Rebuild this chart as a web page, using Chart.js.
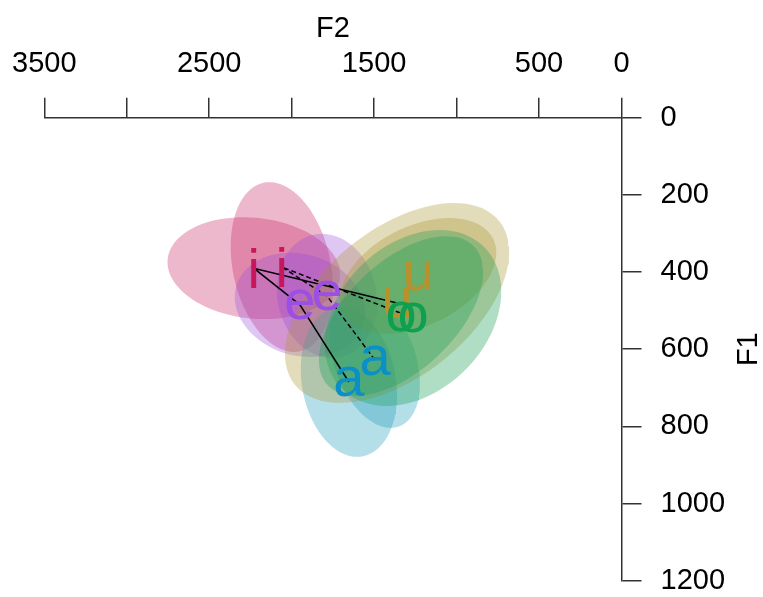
<!DOCTYPE html>
<html><head><meta charset="utf-8">
<script src="https://cdn.jsdelivr.net/npm/chart.js@4"></script>
<style>html,body{margin:0;padding:0;background:#fff;} canvas{display:block;}</style>
</head><body>
<canvas id="c" width="763" height="597"></canvas>
<script>
// ---- data ----
const vowels = ['i', 'e', 'a', 'u', 'o'];
const labelColors = ['#C7175A', '#9B4FE3', '#0A8FC6', '#B8912B', '#0FA04F'];
const fillColors = ['rgba(200,40,100,0.33)', 'rgba(150,70,220,0.30)', 'rgba(40,160,190,0.35)', 'rgba(170,150,50,0.33)', 'rgba(30,160,90,0.35)'];

// vowel means (Hz), two speakers
const f2Speaker1 = [2230, 1950, 1653, 1361, 1337];
const f1Speaker1 = [390, 485, 685, 480, 514];
const f2Speaker2 = [2060, 1786, 1495, 1233, 1264];
const f1Speaker2 = [387, 462, 628, 410, 519];

// ellipse spreads (Hz) and F2/F1 correlation
const f2SpreadSpeaker1 = [523, 395, 292, 680, 498];
const f1SpreadSpeaker1 = [132, 135, 194, 259, 207];
const corrSpeaker1 = [-0.12, -0.15, -0.17, 0.51, 0.55];
const f2SpreadSpeaker2 = [310, 304, 273, 474, 535];
const f1SpreadSpeaker2 = [220, 161, 176, 150, 228];
const corrSpeaker2 = [-0.24, -0.10, -0.35, 0.40, 0.30];

// connecting paths
const pathSpeaker1 = ['a', 'e', 'i', 'u'];
const pathSpeaker2 = ['a', 'e', 'i', 'o'];

// axes
const f2TickValues = [0, 500, 1000, 1500, 2000, 2500, 3000, 3500];
const f2TickLabels = ['0', '500', '', '1500', '', '2500', '', '3500'];
const f1TickValues = [0, 200, 400, 600, 800, 1000, 1200];
const f1TickLabels = ['0', '200', '400', '600', '800', '1000', '1200'];

// ---- build ----
function ellipsePoints(m2, m1, s2, s1, r) {
  const pts = [];
  const k = Math.sqrt(1 - r * r);
  for (let j = 0; j <= 90; j++) {
    const t = 2 * Math.PI * j / 90;
    pts.push({x: m2 + s2 * Math.cos(t), y: m1 + s1 * (r * Math.cos(t) + k * Math.sin(t))});
  }
  return pts;
}

const speakers = [
  {f2: f2Speaker1, f1: f1Speaker1, s2: f2SpreadSpeaker1, s1: f1SpreadSpeaker1, r: corrSpeaker1, path: pathSpeaker1, dash: []},
  {f2: f2Speaker2, f1: f1Speaker2, s2: f2SpreadSpeaker2, s1: f1SpreadSpeaker2, r: corrSpeaker2, path: pathSpeaker2, dash: [5, 3]}
];

const datasets = [];
let ord = 200;
vowels.forEach((v, vi) => {
  speakers.forEach((sp) => {
    datasets.push({
      data: ellipsePoints(sp.f2[vi], sp.f1[vi], sp.s2[vi], sp.s1[vi], sp.r[vi]),
      showLine: true, fill: 'shape', backgroundColor: fillColors[vi],
      borderColor: 'rgba(0,0,0,0)', borderWidth: 0, pointRadius: 0, order: ord--
    });
  });
});
speakers.forEach((sp) => {
  datasets.push({
    data: sp.path.map(v => ({x: sp.f2[vowels.indexOf(v)], y: sp.f1[vowels.indexOf(v)]})),
    showLine: true, fill: false, borderColor: '#000', borderWidth: 1.5, borderDash: sp.dash,
    pointRadius: 0, order: 1
  });
});

const FONT = '"Liberation Sans", Arial, sans-serif';

const labelPlugin = {
  id: 'vowelLabels',
  afterDatasetsDraw(chart) {
    const ctx = chart.ctx, xs = chart.scales.x, ys = chart.scales.y;
    ctx.save();
    ctx.font = '56px ' + FONT;
    ctx.textAlign = 'center';
    ctx.textBaseline = 'alphabetic';
    vowels.forEach((v, vi) => {
      speakers.forEach((sp) => {
        const px = xs.getPixelForValue(sp.f2[vi]);
        const py = ys.getPixelForValue(sp.f1[vi]);
        const m = ctx.measureText(v);
        ctx.fillStyle = labelColors[vi];
        ctx.fillText(v, px, py + (m.actualBoundingBoxAscent - m.actualBoundingBoxDescent) / 2);
      });
    });
    // F1 axis title, reading bottom to top
    ctx.font = '29px ' + FONT;
    ctx.fillStyle = '#000';
    ctx.textBaseline = 'middle';
    ctx.translate(chart.width - 14, (ys.top + ys.bottom) / 2);
    ctx.rotate(-Math.PI / 2);
    ctx.fillText('F1', 0, 0);
    ctx.restore();
  }
};

new Chart(document.getElementById('c'), {
  type: 'scatter',
  data: {datasets},
  options: {
    responsive: false, animation: false, devicePixelRatio: 1,
    layout: {padding: {left: 44.3, right: 0, top: 0, bottom: 16.3}},
    plugins: {legend: {display: false}, tooltip: {enabled: false}},
    scales: {
      x: {
        type: 'linear', position: 'top', reverse: true, min: 0, max: 3500,
        afterFit: (s) => { s.height = 117.7; s.paddingLeft = 0; s.paddingRight = 0; },
        afterBuildTicks: (s) => { s.ticks = f2TickValues.map(v => ({value: v})); },
        ticks: {
          autoSkip: false, maxRotation: 0, padding: 16, color: '#000',
          font: {family: FONT, size: 29},
          callback: (v) => f2TickLabels[f2TickValues.indexOf(v)]
        },
        grid: {drawOnChartArea: false, drawTicks: true, tickLength: 20, color: '#333', lineWidth: 1.5},
        border: {display: true, color: '#333', width: 1.5},
        title: {display: true, text: 'F2', color: '#000', font: {family: FONT, size: 29}, padding: {top: 12, bottom: 0}}
      },
      y: {
        type: 'linear', position: 'right', reverse: true, min: 0, max: 1200,
        afterFit: (s) => { s.width = 141.5; s.paddingTop = 0; s.paddingBottom = 0; },
        afterBuildTicks: (s) => { s.ticks = f1TickValues.map(v => ({value: v})); },
        ticks: {
          autoSkip: false, padding: 19, color: '#000',
          font: {family: FONT, size: 29, lineHeight: 1},
          callback: (v) => f1TickLabels[f1TickValues.indexOf(v)]
        },
        grid: {drawOnChartArea: false, drawTicks: true, tickLength: 20, color: '#333', lineWidth: 1.5},
        border: {display: true, color: '#333', width: 1.5}
      }
    }
  },
  plugins: [labelPlugin]
});
</script>
</body></html>
